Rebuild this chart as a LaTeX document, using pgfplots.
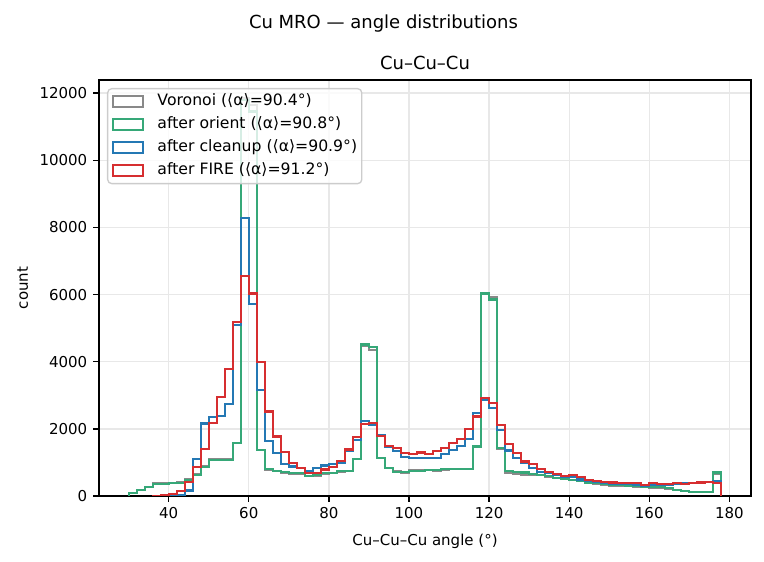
\documentclass[border=0pt]{standalone}
\usepackage{fontspec}
\setmainfont{DejaVu Sans}
\usepackage{pgfplots}
\usepackage{pgfplotstable}
\pgfplotsset{compat=1.18}

\definecolor{vorcol}{RGB}{137,137,137}
\definecolor{oricol}{RGB}{54,168,120}
\definecolor{clncol}{RGB}{36,120,180}
\definecolor{firecol}{RGB}{214,46,48}

% Cu-Cu-Cu angle histograms, 2 degree bins; each table lists left bin edges
% with the count of that bin, closed by the right edge at zero.
\pgfplotstableread{
edge count
30 0
30 80
32 180
34 270
36 380
38 380
40 390
42 410
44 500
46 640
48 880
50 1100
52 1100
54 1090
56 1580
58 11850
60 11650
62 1360
64 790
66 740
68 700
70 660
72 650
74 590
76 610
78 660
80 680
82 720
84 740
86 1100
88 4480
90 4350
92 1120
94 830
96 730
98 700
100 770
102 770
104 770
106 750
108 790
110 810
112 810
114 810
116 1460
118 6010
120 5920
122 1400
124 700
126 650
128 630
130 640
132 620
134 580
136 540
138 510
140 470
142 440
144 390
146 360
148 340
150 310
152 300
154 290
156 270
158 260
160 250
162 250
164 220
166 180
168 160
170 130
172 130
174 130
176 650
178 0
}\voronoi

\pgfplotstableread{
edge count
30 0
30 80
32 180
34 260
36 360
38 360
40 380
42 380
44 470
46 630
48 860
50 1080
52 1080
54 1080
56 1570
58 11800
60 11450
62 1370
64 806
66 756
68 710
70 677
72 690
74 590
76 627
78 677
80 696
82 736
84 756
86 1110
88 4510
90 4430
92 1120
94 840
96 726
98 726
100 756
102 756
104 770
106 776
108 796
110 800
112 800
114 800
116 1473
118 6030
120 5850
122 1423
124 756
126 726
128 700
130 665
132 637
134 587
136 547
138 517
140 478
142 458
144 398
146 378
148 348
150 328
152 318
154 308
156 298
158 278
160 278
162 278
164 229
166 179
168 159
170 129
172 129
174 129
176 700
178 0
}\orient

\pgfplotstableread{
edge count
38 0
38 10
40 20
42 40
44 165
46 1100
48 2160
50 2350
52 2390
54 2750
56 5100
58 8290
60 5720
62 3160
64 1640
66 1270
68 945
70 880
72 830
74 740
76 846
78 910
80 950
82 1000
84 1330
86 1660
88 2245
90 2110
92 1815
94 1470
96 1330
98 1160
100 1130
102 1130
104 1130
106 1130
108 1240
110 1373
112 1500
114 1700
116 2468
118 2860
120 2630
122 1970
124 1353
126 1144
128 985
130 830
132 726
134 677
136 627
138 560
140 577
142 490
144 460
146 425
148 400
150 370
152 360
154 350
156 320
158 310
160 320
162 320
164 330
166 350
168 370
170 380
172 400
174 425
176 430
178 0
}\cleanup

\pgfplotstableread{
edge count
36 0
36 10
38 25
40 50
42 150
44 410
46 856
48 1393
50 2169
52 2945
54 3781
56 5174
58 6540
60 6030
62 3980
64 2517
66 1771
68 1303
70 975
72 840
74 677
76 690
78 790
80 876
82 1030
84 1383
86 1751
88 2139
90 2185
92 1790
94 1500
96 1433
98 1274
100 1244
102 1294
104 1240
106 1330
108 1423
110 1572
112 1705
114 1990
116 2368
118 2915
120 2760
122 2119
124 1552
126 1284
128 1025
130 945
132 796
134 726
136 655
138 595
140 617
142 577
144 478
146 438
148 413
150 400
152 378
154 378
156 378
158 325
160 378
162 348
164 348
166 378
168 348
170 378
172 400
174 418
176 390
178 0
}\fire

\begin{document}
\begin{tikzpicture}
\path[use as bounding box] (-59.4pt,-39.6pt) rectangle (399pt,297.6pt);
\begin{axis}[
  at={(0pt,0pt)}, anchor=south west,
  scale only axis, width=391.2pt, height=249.6pt,
  xmin=22.6, xmax=185.4, ymin=0, ymax=12390,
  xtick={40,60,...,180}, ytick={0,2000,...,12000},
  scaled y ticks=false,
  tick pos=left, tick align=outside, major tick length=3.5pt,
  every tick/.style={black, line width=0.8pt},
  tick label style={font=\fontsize{9}{10.8}\selectfont},
  /pgf/number format/assume math mode=true,
  /pgf/number format/1000 sep={},
  grid=major, grid style={line width=0.8pt, black!9},
  axis line style={line width=0.8pt, black},
  every axis title shift=0pt,
  title={Cu–Cu–Cu},
  title style={at={(axis description cs:0.5,1.02524)}, anchor=base,
    font=\fontsize{10.8}{13}\selectfont},
  xlabel={Cu–Cu–Cu angle (°)},
  xlabel style={at={(axis description cs:0.5,-0.1178)}, anchor=base,
    font=\fontsize{9}{10.8}\selectfont},
  ylabel={count},
  ylabel style={at={(axis description cs:-0.1089,0.5)}, anchor=base,
    font=\fontsize{9}{10.8}\selectfont},
  legend style={at={(axis description cs:0.01227,0.98077)}, anchor=north west,
    draw=black!20, line width=0.8pt, rounded corners=2.5pt,
    fill=white, fill opacity=0.8, text opacity=1, draw opacity=1,
    inner xsep=2.8pt, inner ysep=3.2pt, row sep=4.6pt,
    font=\fontsize{9.4}{11.2}\selectfont,
    nodes={inner sep=0pt, text height=7pt, text depth=2.2pt},
    /tikz/every odd column/.append style={column sep=7.8pt}},
  legend cell align=left,
  legend image code/.code={\draw[#1, fill=none, sharp corners] (0pt,-3.2pt) rectangle (18pt,3.2pt);},
  every axis plot/.append style={const plot, line width=1.3pt, mark=none},
]
\addplot[vorcol] table[x=edge, y=count]{\voronoi};
\addlegendentry{Voronoi (⟨α⟩=90.4°)}
\addplot[oricol] table[x=edge, y=count]{\orient};
\addlegendentry{after orient (⟨α⟩=90.8°)}
\addplot[clncol] table[x=edge, y=count]{\cleanup};
\addlegendentry{after cleanup (⟨α⟩=90.9°)}
\addplot[firecol] table[x=edge, y=count]{\fire};
\addlegendentry{after FIRE (⟨α⟩=91.2°)}
\end{axis}
\node[anchor=base, font=\fontsize{10.8}{13}\selectfont] at (170.7pt,280.5pt) {Cu MRO — angle distributions};
\end{tikzpicture}
\end{document}
